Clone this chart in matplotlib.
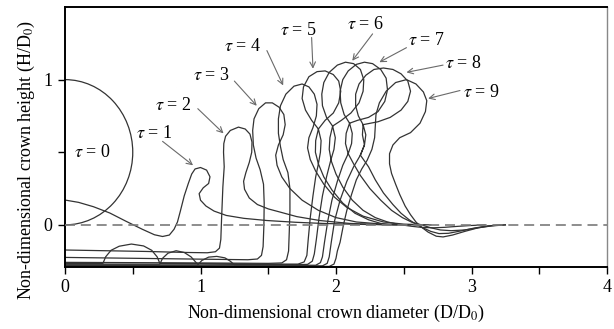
import matplotlib
matplotlib.use('Agg')
import matplotlib.pyplot as plt
from matplotlib.patches import Arc

plt.rcParams['font.family'] = 'Liberation Serif'
plt.rcParams['mathtext.fontset'] = 'stix'

# drop at tau = 0: diameter D0 = 1, resting on the undisturbed film (y = 0)
drop_diameter = 1.0

# crown profiles (x = D/D0, y = H/D0), one list of points per tau
tau1 = [(0.00, 0.171), (0.10, 0.155), (0.21, 0.125), (0.33, 0.082), (0.45, 0.025),
        (0.57, -0.03), (0.66, -0.068), (0.72, -0.08), (0.77, -0.07), (0.805, -0.03),
        (0.83, 0.02), (0.85, 0.09), (0.88, 0.20), (0.91, 0.285), (0.935, 0.35),
        (0.96, 0.385), (1.00, 0.395), (1.045, 0.377), (1.07, 0.331), (1.06, 0.285),
        (1.02, 0.255), (0.99, 0.215), (1.00, 0.17), (1.04, 0.13), (1.10, 0.095),
        (1.19, 0.065), (1.32, 0.045), (1.49, 0.03), (1.70, 0.018), (1.90, 0.01),
        (2.15, 0.004), (2.45, 0.0)]

tau2 = [(0.00, -0.173), (0.30, -0.178), (0.60, -0.183), (0.90, -0.19), (1.05, -0.192),
        (1.11, -0.185), (1.14, -0.16), (1.15, -0.10), (1.155, 0.03), (1.165, 0.26),
        (1.175, 0.40), (1.17, 0.50), (1.172, 0.56), (1.185, 0.61), (1.22, 0.65),
        (1.28, 0.673), (1.33, 0.66), (1.365, 0.625), (1.38, 0.57), (1.378, 0.50),
        (1.36, 0.43), (1.335, 0.36), (1.318, 0.30), (1.325, 0.245), (1.36, 0.185),
        (1.42, 0.14), (1.50, 0.11), (1.58, 0.09), (1.71, 0.057), (1.88, 0.03),
        (2.10, 0.01), (2.40, 0.0)]

tau3 = [(0.00, -0.224), (0.50, -0.23), (1.00, -0.236), (1.35, -0.24), (1.42, -0.235),
        (1.45, -0.21), (1.462, -0.15), (1.468, 0.0), (1.47, 0.15), (1.465, 0.28),
        (1.44, 0.38), (1.41, 0.46), (1.39, 0.55), (1.385, 0.65), (1.395, 0.73),
        (1.43, 0.80), (1.48, 0.84), (1.53, 0.84), (1.58, 0.81), (1.615, 0.76),
        (1.625, 0.69), (1.61, 0.62), (1.575, 0.55), (1.555, 0.48), (1.565, 0.41),
        (1.60, 0.33), (1.66, 0.25), (1.75, 0.17), (1.87, 0.10), (2.00, 0.05),
        (2.15, 0.02), (2.35, 0.005), (2.60, 0.0)]

tau4 = [(0.00, -0.258), (0.50, -0.26), (1.00, -0.262), (1.50, -0.265), (1.60, -0.262),
        (1.635, -0.24), (1.65, -0.18), (1.655, -0.05), (1.66, 0.10), (1.66, 0.25),
        (1.645, 0.36), (1.61, 0.45), (1.59, 0.54), (1.575, 0.63), (1.575, 0.73),
        (1.59, 0.82), (1.63, 0.90), (1.69, 0.955), (1.75, 0.97), (1.80, 0.95),
        (1.84, 0.90), (1.86, 0.83), (1.855, 0.75), (1.83, 0.67), (1.80, 0.60),
        (1.79, 0.53), (1.81, 0.45), (1.85, 0.37), (1.91, 0.28), (1.99, 0.19),
        (2.08, 0.12), (2.20, 0.06), (2.35, 0.02), (2.50, 0.005), (2.70, 0.0)]

tau5 = [(0.00, -0.265), (0.28, -0.265), (0.30, -0.22), (0.34, -0.175), (0.40, -0.147),
        (0.49, -0.132), (0.58, -0.145), (0.64, -0.175), (0.68, -0.22), (0.70, -0.265),
        (1.00, -0.267), (1.50, -0.27), (1.72, -0.27), (1.765, -0.255), (1.785, -0.21),
        (1.795, -0.10), (1.81, 0.05), (1.83, 0.20), (1.85, 0.33), (1.87, 0.42),
        (1.885, 0.50), (1.89, 0.58), (1.87, 0.66), (1.82, 0.72), (1.775, 0.79),
        (1.75, 0.87), (1.76, 0.95), (1.80, 1.02), (1.86, 1.055), (1.92, 1.06),
        (1.98, 1.035), (2.02, 0.99), (2.035, 0.92), (2.02, 0.84), (1.98, 0.77),
        (1.92, 0.72), (1.87, 0.66), (1.85, 0.58), (1.848, 0.50), (1.87, 0.42),
        (1.91, 0.33), (1.97, 0.24), (2.05, 0.15), (2.14, 0.08), (2.24, 0.035),
        (2.33, 0.01), (2.42, 0.0), (2.55, 0.0)]

tau6 = [(0.00, -0.27), (0.70, -0.27), (0.72, -0.23), (0.76, -0.195), (0.82, -0.178),
        (0.88, -0.19), (0.93, -0.22), (0.97, -0.262), (0.98, -0.27), (1.30, -0.272),
        (1.70, -0.274), (1.79, -0.272), (1.825, -0.25), (1.84, -0.20), (1.855, -0.10),
        (1.875, 0.05), (1.90, 0.20), (1.93, 0.33), (1.96, 0.44), (1.985, 0.52),
        (1.995, 0.60), (1.975, 0.68), (1.93, 0.74), (1.90, 0.82), (1.895, 0.90),
        (1.91, 0.98), (1.95, 1.05), (2.01, 1.10), (2.07, 1.12), (2.13, 1.11),
        (2.18, 1.07), (2.205, 1.00), (2.20, 0.92), (2.17, 0.84), (2.11, 0.77),
        (2.04, 0.72), (1.975, 0.68), (1.955, 0.60), (1.95, 0.52), (1.965, 0.44),
        (2.00, 0.35), (2.05, 0.26), (2.12, 0.17), (2.20, 0.10), (2.29, 0.05),
        (2.38, 0.02), (2.47, 0.002), (2.56, -0.01), (2.64, -0.018), (2.72, -0.02),
        (2.80, -0.017), (2.90, -0.01), (3.00, -0.004), (3.10, 0.0)]

tau7 = [(0.00, -0.275), (0.98, -0.275), (1.01, -0.245), (1.06, -0.222), (1.12, -0.217),
        (1.18, -0.227), (1.22, -0.25), (1.25, -0.275), (1.60, -0.277), (1.85, -0.278),
        (1.885, -0.26), (1.90, -0.22), (1.915, -0.12), (1.94, 0.03), (1.97, 0.17),
        (2.01, 0.30), (2.05, 0.41), (2.09, 0.49), (2.115, 0.56), (2.12, 0.63),
        (2.10, 0.70), (2.06, 0.76), (2.035, 0.84), (2.03, 0.92), (2.05, 1.00),
        (2.09, 1.06), (2.15, 1.105), (2.21, 1.12), (2.27, 1.11), (2.33, 1.07),
        (2.37, 1.01), (2.38, 0.93), (2.36, 0.85), (2.31, 0.78), (2.24, 0.74),
        (2.16, 0.72), (2.10, 0.70), (2.075, 0.63), (2.07, 0.56), (2.09, 0.49),
        (2.13, 0.42), (2.18, 0.34), (2.25, 0.25), (2.33, 0.17), (2.41, 0.10),
        (2.49, 0.05), (2.56, 0.018), (2.63, 0.0), (2.70, -0.02), (2.77, -0.035),
        (2.85, -0.04), (2.95, -0.035), (3.05, -0.02), (3.15, -0.007), (3.25, 0.0)]

tau8 = [(0.00, -0.28), (1.00, -0.281), (1.60, -0.282), (1.90, -0.282), (1.935, -0.265),
        (1.95, -0.22), (1.965, -0.12), (1.99, 0.03), (2.03, 0.17), (2.08, 0.30),
        (2.13, 0.40), (2.18, 0.48), (2.21, 0.55), (2.22, 0.62), (2.20, 0.69),
        (2.165, 0.75), (2.145, 0.82), (2.145, 0.90), (2.17, 0.97), (2.22, 1.03),
        (2.28, 1.07), (2.35, 1.08), (2.42, 1.07), (2.48, 1.04), (2.53, 0.99),
        (2.55, 0.92), (2.53, 0.85), (2.48, 0.79), (2.40, 0.74), (2.31, 0.71),
        (2.20, 0.69), (2.195, 0.62), (2.21, 0.55), (2.18, 0.48)]
tau8_outer = [(2.18, 0.48), (2.24, 0.40), (2.29, 0.31), (2.35, 0.22), (2.42, 0.14),
              (2.48, 0.08), (2.54, 0.035), (2.59, 0.005), (2.64, -0.02), (2.70, -0.045),
              (2.76, -0.06), (2.83, -0.058), (2.92, -0.042), (3.02, -0.022), (3.12, -0.007),
              (3.22, 0.0)]

tau9 = [(0.00, -0.284), (1.00, -0.285), (1.60, -0.286), (1.95, -0.286), (1.985, -0.27),
        (2.00, -0.23), (2.01, -0.18), (2.03, -0.12), (2.055, 0.0), (2.08, 0.10),
        (2.115, 0.21), (2.15, 0.31), (2.19, 0.385), (2.23, 0.445), (2.265, 0.52),
        (2.285, 0.60), (2.29, 0.68), (2.295, 0.76), (2.32, 0.84), (2.37, 0.92),
        (2.44, 0.98), (2.52, 1.0), (2.59, 0.97), (2.645, 0.915), (2.67, 0.855),
        (2.66, 0.78), (2.62, 0.70), (2.55, 0.635), (2.47, 0.60), (2.42, 0.55),
        (2.395, 0.49), (2.395, 0.42), (2.41, 0.354), (2.44, 0.28), (2.47, 0.21),
        (2.51, 0.13), (2.55, 0.07), (2.59, 0.02), (2.63, -0.015), (2.68, -0.05),
        (2.74, -0.078), (2.79, -0.083), (2.86, -0.07), (2.95, -0.045), (3.05, -0.02),
        (3.15, -0.005), (3.25, 0.0)]

# label text position and arrow tip for each tau
labels = ['0', '1', '2', '3', '4', '5', '6', '7', '8', '9']
label_pos = [(0.20, 0.50), (0.66, 0.63), (0.80, 0.82), (1.08, 1.03), (1.31, 1.23),
             (1.72, 1.34), (2.22, 1.38), (2.67, 1.27), (2.94, 1.11), (3.07, 0.91)]
arrow_tail = [None, (0.72, 0.575), (0.98, 0.80), (1.25, 0.99), (1.49, 1.20),
              (1.82, 1.29), (2.27, 1.315), (2.52, 1.22), (2.79, 1.10), (2.915, 0.925)]
arrow_tip = [None, (0.945, 0.41), (1.17, 0.63), (1.415, 0.82), (1.61, 0.96),
             (1.83, 1.075), (2.12, 1.13), (2.32, 1.12), (2.52, 1.05), (2.68, 0.87)]

fig = plt.figure(figsize=(6.14, 3.29), dpi=100)
ax = fig.add_axes([65 / 614, 1 - 267 / 329, 542 / 614, 260 / 329])

line_color = '#333333'
ax.add_patch(Arc((0, drop_diameter / 2), drop_diameter, drop_diameter, theta1=-90, theta2=90,
                 color=line_color, lw=0.9))
for prof in [tau1, tau2, tau3, tau4, tau5, tau6, tau7, tau8, tau8_outer, tau9]:
    xs = [p[0] for p in prof]
    ys = [p[1] for p in prof]
    ax.plot(xs, ys, color=line_color, lw=0.9)

# undisturbed film surface
ax.axhline(0, color='#7a7a7a', lw=1.2, dashes=(6, 3.5), zorder=3)

for i, lab in enumerate(labels):
    ax.text(label_pos[i][0], label_pos[i][1], r'$\tau$ = ' + lab, ha='center', va='center',
            fontsize=13)
    if arrow_tip[i] is not None:
        ax.annotate('', xy=arrow_tip[i], xytext=arrow_tail[i],
                    arrowprops=dict(arrowstyle='->', color='#6a6a6a', lw=0.8,
                                    shrinkA=0, shrinkB=0))

ax.set_xlim(0, 4)
ax.set_ylim(-0.29, 1.5)
ax.set_xticks([0, 1, 2, 3, 4])
ax.set_xticks([0.5, 1.5, 2.5, 3.5], minor=True)
ax.set_yticks([0, 1])
ax.set_yticks([0.5], minor=True)
ax.tick_params(which='both', direction='out', length=5, width=1, labelsize=13, pad=4)

for s in ['left', 'top', 'bottom']:
    ax.spines[s].set_linewidth(1.4)
    ax.spines[s].set_color('black')
ax.spines['right'].set_linewidth(1.0)
ax.spines['right'].set_color('#888888')

fig.text(336 / 614, 1 - 313 / 329, 'Non-dimensional crown diameter (D/D$_0$)',
         ha='center', va='center', fontsize=13)
fig.text(26 / 614, 1 - 160 / 329, 'Non-dimensional crown height (H/D$_0$)',
         ha='center', va='center', rotation=90, fontsize=13)

fig.savefig('out.png', dpi=100)
